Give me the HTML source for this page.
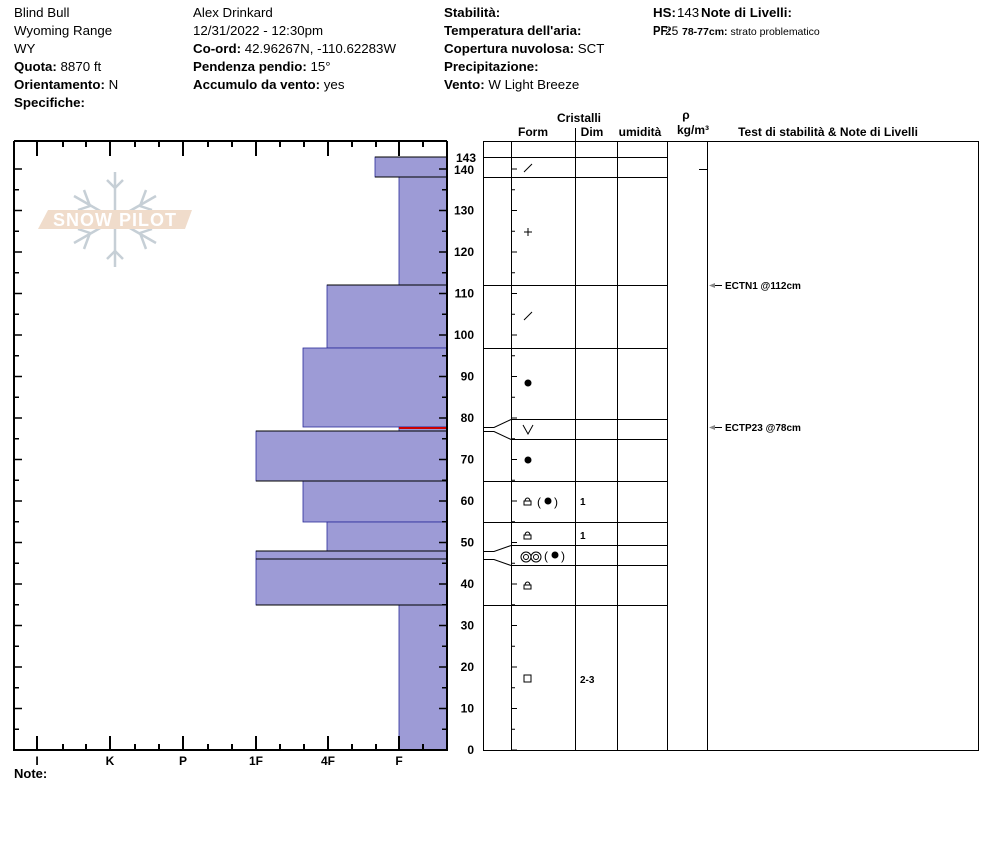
<!DOCTYPE html>
<html><head><meta charset="utf-8"><style>
body{margin:0;background:#fff;width:994px;height:840px;overflow:hidden;font-family:"Liberation Sans",Arial,sans-serif}
svg text{font-family:"Liberation Sans",Arial,sans-serif}
</style></head><body>
<svg width="994" height="840" xmlns="http://www.w3.org/2000/svg">
<g font-size="13.3" fill="#000">
<text x="14" y="17">Blind Bull</text>
<text x="14" y="35">Wyoming Range</text>
<text x="14" y="53">WY</text>
<text x="14" y="71"><tspan font-weight="bold">Quota:</tspan> 8870 ft</text>
<text x="14" y="89"><tspan font-weight="bold">Orientamento:</tspan> N</text>
<text x="14" y="107" font-weight="bold">Specifiche:</text>
<text x="193" y="17">Alex Drinkard</text>
<text x="193" y="35">12/31/2022 - 12:30pm</text>
<text x="193" y="53"><tspan font-weight="bold">Co-ord:</tspan> 42.96267N, -110.62283W</text>
<text x="193" y="71"><tspan font-weight="bold">Pendenza pendio:</tspan> 15°</text>
<text x="193" y="89"><tspan font-weight="bold">Accumulo da vento:</tspan> yes</text>
<text x="444" y="17" font-weight="bold">Stabilità:</text>
<text x="444" y="35" font-weight="bold">Temperatura dell'aria:</text>
<text x="444" y="53"><tspan font-weight="bold">Copertura nuvolosa:</tspan> SCT</text>
<text x="444" y="71" font-weight="bold">Precipitazione:</text>
<text x="444" y="89"><tspan font-weight="bold">Vento:</tspan>  W Light Breeze</text>
<text x="653" y="17" font-weight="bold">HS:</text><text x="677" y="17">143</text>
<text x="653" y="35" font-weight="bold" textLength="18" lengthAdjust="spacingAndGlyphs">PF:</text><text x="665" y="35" font-size="12">25</text>
<text x="701" y="17" font-weight="bold">Note di Livelli:</text>
<text x="682" y="35" font-size="10.5"><tspan font-weight="bold">78-77cm:</tspan> strato problematico</text>
</g>
<!-- watermark -->
<g opacity="0.8">
<g stroke="#b8c4cc" stroke-width="2.5" fill="none">
<line x1="115" y1="172" x2="115" y2="267"/>
<line x1="74" y1="196" x2="156" y2="243"/>
<line x1="74" y1="243" x2="156" y2="196"/>
<polyline points="107,180 115,188 123,180"/>
<polyline points="107,259 115,251 123,259"/>
<polyline points="84,190 90,206 78,210"/>
<polyline points="146,190 140,206 152,210"/>
<polyline points="84,249 90,233 78,229"/>
<polyline points="146,249 140,233 152,229"/>
</g>
<polygon points="48,210 192,210 185,229 38,229" fill="#edd4bf"/>
<text x="115" y="226" font-size="18" fill="#fff" text-anchor="middle" font-weight="bold" letter-spacing="1">SNOW PILOT</text>
</g>
<!-- bars -->
<g fill="#9d9bd6" stroke="#2a2a9a" stroke-width="0.8">
<rect x="375" y="157" width="72" height="20"/>
<rect x="399" y="177" width="48" height="108"/>
<rect x="327" y="285" width="120" height="63"/>
<rect x="303" y="348" width="144" height="79"/>
<rect x="399" y="427" width="48" height="4"/>
<rect x="256" y="431" width="191" height="50"/>
<rect x="303" y="481" width="144" height="41"/>
<rect x="327" y="522" width="120" height="29"/>
<rect x="256" y="551" width="191" height="8"/>
<rect x="256" y="559" width="191" height="46"/>
<rect x="399" y="605" width="48" height="145"/>
</g>
<line x1="399" y1="428" x2="447" y2="428" stroke="#c00" stroke-width="2"/>
<g stroke="#000" stroke-width="1" fill="none">
<line x1="375" y1="157" x2="447" y2="157"/><line x1="375" y1="177" x2="447" y2="177"/>
<line x1="327" y1="285" x2="447" y2="285"/><line x1="256" y1="481" x2="447" y2="481"/>
<line x1="256" y1="559" x2="447" y2="559"/><line x1="256" y1="605" x2="447" y2="605"/>
<line x1="256" y1="431" x2="447" y2="431"/><line x1="256" y1="551" x2="447" y2="551"/>
</g>
<!-- left axes -->
<g stroke="#000" stroke-width="2" fill="none">
<line x1="14" y1="141" x2="447" y2="141"/>
<line x1="14" y1="141" x2="14" y2="751"/>
<line x1="14" y1="750" x2="447" y2="750"/>
<line x1="447" y1="141" x2="447" y2="751"/>
</g>
<g stroke="#000" stroke-width="2">
<line x1="37" y1="141" x2="37" y2="156"/><line x1="110" y1="141" x2="110" y2="156"/><line x1="183" y1="141" x2="183" y2="156"/><line x1="256" y1="141" x2="256" y2="156"/><line x1="328" y1="141" x2="328" y2="156"/><line x1="399" y1="141" x2="399" y2="156"/>
<line x1="63" y1="141" x2="63" y2="147"/><line x1="86" y1="141" x2="86" y2="147"/><line x1="135" y1="141" x2="135" y2="147"/><line x1="159" y1="141" x2="159" y2="147"/><line x1="208" y1="141" x2="208" y2="147"/><line x1="232" y1="141" x2="232" y2="147"/><line x1="280" y1="141" x2="280" y2="147"/><line x1="304" y1="141" x2="304" y2="147"/><line x1="352" y1="141" x2="352" y2="147"/><line x1="376" y1="141" x2="376" y2="147"/><line x1="423" y1="141" x2="423" y2="147"/>
<line x1="37" y1="750" x2="37" y2="736"/><line x1="110" y1="750" x2="110" y2="736"/><line x1="183" y1="750" x2="183" y2="736"/><line x1="256" y1="750" x2="256" y2="736"/><line x1="328" y1="750" x2="328" y2="736"/><line x1="399" y1="750" x2="399" y2="736"/>
<line x1="63" y1="750" x2="63" y2="744"/><line x1="86" y1="750" x2="86" y2="744"/><line x1="135" y1="750" x2="135" y2="744"/><line x1="159" y1="750" x2="159" y2="744"/><line x1="208" y1="750" x2="208" y2="744"/><line x1="232" y1="750" x2="232" y2="744"/><line x1="280" y1="750" x2="280" y2="744"/><line x1="304" y1="750" x2="304" y2="744"/><line x1="352" y1="750" x2="352" y2="744"/><line x1="376" y1="750" x2="376" y2="744"/><line x1="423" y1="750" x2="423" y2="744"/>
</g>
<g stroke="#000" stroke-width="1.5" id="yt"></g>
<g font-size="12" font-weight="bold" text-anchor="middle">
<text x="37" y="765">I</text><text x="110" y="765">K</text><text x="183" y="765">P</text><text x="256" y="765">1F</text><text x="328" y="765">4F</text><text x="399" y="765">F</text>
</g>
<text x="14" y="778" font-size="13" font-weight="bold">Note:</text>
<g font-size="12" font-weight="bold" id="yl"></g>
<!-- table -->
<g font-size="12" font-weight="bold" text-anchor="middle">
<text x="579" y="122">Cristalli</text>
<text x="533" y="136">Form</text><text x="592" y="136">Dim</text><text x="640" y="136">umidità</text>
<text x="686" y="119">ρ</text><text x="693" y="134">kg/m³</text>
<text x="828" y="136">Test di stabilità &amp; Note di Livelli</text>
</g>
<g stroke="#000" stroke-width="1" fill="none">
<rect x="483.5" y="141.5" width="495" height="609"/>
<line x1="511.5" y1="141" x2="511.5" y2="750"/>
<line x1="575.5" y1="141" x2="575.5" y2="750"/>
<line x1="617.5" y1="141" x2="617.5" y2="750"/>
<line x1="667.5" y1="141" x2="667.5" y2="750"/>
<line x1="707.5" y1="141" x2="707.5" y2="750"/>
<line x1="575.5" y1="128" x2="575.5" y2="141"/>
<line x1="483" y1="157.5" x2="667" y2="157.5"/>
<line x1="483" y1="177.5" x2="667" y2="177.5"/>
<line x1="483" y1="285.5" x2="667" y2="285.5"/>
<line x1="483" y1="348.5" x2="667" y2="348.5"/>
<line x1="511" y1="419.5" x2="667" y2="419.5"/>
<line x1="511" y1="439.5" x2="667" y2="439.5"/>
<line x1="483" y1="481.5" x2="667" y2="481.5"/>
<line x1="483" y1="522.5" x2="667" y2="522.5"/>
<line x1="511" y1="545.5" x2="667" y2="545.5"/>
<line x1="511" y1="565.5" x2="667" y2="565.5"/>
<line x1="483" y1="605.5" x2="667" y2="605.5"/>
<polyline points="483,427.5 494,427.5 511,419.5"/>
<polyline points="483,431.5 494,431.5 511,439.5"/>
<polyline points="483,551.5 494,551.5 511,545.5"/>
<polyline points="483,559.5 494,559.5 511,565.5"/>
<line x1="707" y1="169.5" x2="699" y2="169.5"/>
<line x1="722" y1="285.5" x2="710" y2="285.5"/>
<line x1="722" y1="427.5" x2="710" y2="427.5"/>
</g>
<polygon points="709,285.5 715,283 715,288" fill="#888"/>
<polygon points="709,427.5 715,425 715,430" fill="#888"/>
<g font-size="10" font-weight="bold">
<text x="725" y="289">ECTN1 @112cm</text>
<text x="725" y="431">ECTP23 @78cm</text>
<text x="580" y="505">1</text><text x="580" y="539">1</text><text x="580" y="683">2-3</text>
</g>
<g stroke="#000" stroke-width="1" fill="none">
<line x1="524" y1="172" x2="532" y2="164"/>
<line x1="524" y1="320" x2="532" y2="312"/>
<line x1="524" y1="232" x2="532" y2="232"/><line x1="528" y1="228" x2="528" y2="236"/>
<polyline points="523,425 528,434 533,425"/>
<rect x="524" y="675" width="7" height="7"/>
<path d="M524,505 h7 v-4 h-7 z M525,501 a2.5,3 0 0 1 5,0"/>
<path d="M524,539 h7 v-4 h-7 z M525,535 a2.5,3 0 0 1 5,0"/>
<path d="M524,589 h7 v-4 h-7 z M525,585 a2.5,3 0 0 1 5,0"/>
<circle cx="526" cy="557" r="5"/><circle cx="526" cy="557" r="2.5"/>
<circle cx="536" cy="557" r="5"/><circle cx="536" cy="557" r="2.5"/>
</g>
<g fill="#000">
<circle cx="528" cy="383" r="3.5"/><circle cx="528" cy="460" r="3.5"/>
<circle cx="548" cy="501" r="3.5"/><circle cx="555" cy="555" r="3.5"/>
</g>
<g font-size="12"><text x="537" y="506">(</text><text x="554" y="506">)</text><text x="544" y="560">(</text><text x="561" y="560">)</text></g>
<g id="tt" stroke="#000" stroke-width="1"></g>
<script>
var yt=document.getElementById('yt'),yl=document.getElementById('yl'),tt=document.getElementById('tt'),ns='http://www.w3.org/2000/svg';
function L(g,a,b,c,d){var l=document.createElementNS(ns,'line');l.setAttribute('x1',a);l.setAttribute('y1',b);l.setAttribute('x2',c);l.setAttribute('y2',d);g.appendChild(l);}
for(var h=0;h<=140;h+=5){var y=750-4.15*h;var big=h%10==0;L(yt,14,y,big?22:19,y);L(yt,447,y,big?439:442,y);L(tt,511,y,big?517:515,y);
if(big){var t=document.createElementNS(ns,'text');t.setAttribute('x',474);t.setAttribute('text-anchor','end');t.setAttribute('y',h==140?174:y+4);t.textContent=h;yl.appendChild(t);}}
var t=document.createElementNS(ns,'text');t.setAttribute('x',476);t.setAttribute('text-anchor','end');t.setAttribute('y',162);t.textContent='143';yl.appendChild(t);
</script>
</svg>
</body></html>
